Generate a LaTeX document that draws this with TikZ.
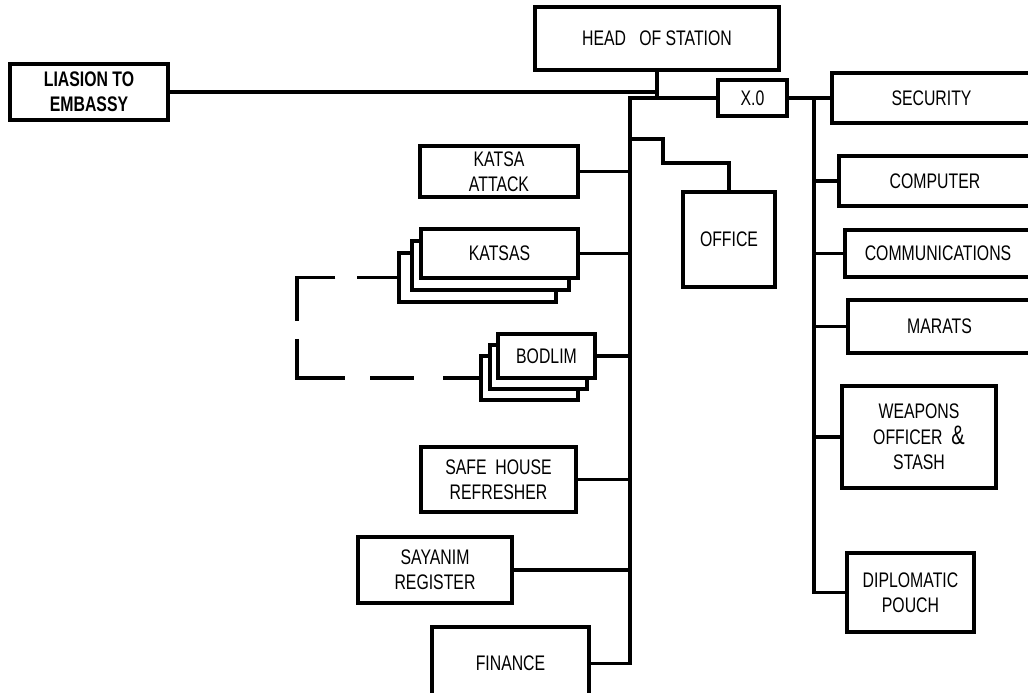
\documentclass[tikz,border=0pt]{standalone}
\usepackage{fontspec}
\setmainfont{Liberation Sans}[FakeStretch=0.75]
\usepackage{tikz}

\begin{document}
\begin{tikzpicture}[x=0.025cm,y=-0.025cm,line width=2.3pt,
    box/.style={draw,fill=white,align=center,inner sep=2pt,
        font=\fontsize{15}{18}\selectfont},
    dashlink/.style={dash pattern=on 29pt off 15pt on 58pt off 13pt on 62pt off 18pt on 31pt off 21pt on 30pt off 40pt}]
    \useasboundingbox (0,0) rectangle (1028,692);
    \clip (0,0) rectangle (1028,692);

    \node[box,minimum width=6.1cm,minimum height=1.575cm] (head) at (657,38.5) {HEAD~~~OF STATION};
    \node[box,minimum width=3.95cm,minimum height=1.4cm,font=\fontsize{15}{18}\selectfont\bfseries] (liaison) at (89,92) {LIASION TO\\EMBASSY};
    \node[box,minimum width=1.725cm,minimum height=0.9cm] (xo) at (752.5,98) {X.0};

    \node[box,minimum width=4.975cm,minimum height=1.25cm] (security) at (931.5,98) {SECURITY};
    \node[box,minimum width=4.8cm,minimum height=1.25cm] (computer) at (935,181) {COMPUTER};
    \node[box,minimum width=4.65cm,minimum height=1.175cm] (comms) at (938,253.5) {COMMUNICATIONS};
    \node[box,minimum width=4.575cm,minimum height=1.325cm] (marats) at (939.5,326.5) {MARATS};
    \node[box,minimum width=3.85cm,minimum height=2.55cm] (weapons) at (919,437) {WEAPONS\\OFFICER~~{\fontsize{19}{18}\selectfont\&}\\STASH};
    \node[box,minimum width=3.175cm,minimum height=1.975cm] (diplomatic) at (910.5,592.5) {DIPLOMATIC\\POUCH};

    \node[box,minimum width=3.95cm,minimum height=1.275cm] (attack) at (499,171.5) {KATSA\\ATTACK};
    \node[box,minimum width=3.925cm,minimum height=1.225cm] (katsas3) at (477.5,277.5) {};
    \node[box,minimum width=3.925cm,minimum height=1.225cm] (katsas2) at (490.5,265.5) {};
    \node[box,minimum width=3.925cm,minimum height=1.225cm] (katsas) at (499.5,253.5) {KATSAS};
    \node[box,minimum width=2.425cm,minimum height=1.1cm] (bodlim3) at (529.5,378) {};
    \node[box,minimum width=2.425cm,minimum height=1.1cm] (bodlim2) at (538.5,367) {};
    \node[box,minimum width=2.425cm,minimum height=1.1cm] (bodlim) at (546.5,356) {BODLIM};
    \node[box,minimum width=3.875cm,minimum height=1.625cm] (safehouse) at (498.5,479.5) {SAFE~~HOUSE\\REFRESHER};
    \node[box,minimum width=3.85cm,minimum height=1.65cm] (sayanim) at (435,570) {SAYANIM\\REGISTER};
    \node[box,minimum width=3.925cm,minimum height=1.825cm] (finance) at (510.5,663.5) {FINANCE};
    \node[box,minimum width=2.3cm,minimum height=2.375cm] (office) at (729,239.5) {OFFICE};

    \coordinate (ltop) at (630,98);
    \coordinate (rtop) at (814,98);
    \coordinate (offj) at (630,139);
    \coordinate (dcorner) at (297,0);

    \draw (head.south) -- (head.south |- xo.west);
    \draw (liaison.east) -- (liaison.east -| head.south);
    \draw (xo.west) -- (ltop) |- (finance.east);
    \foreach \n in {attack,katsas,bodlim,safehouse,sayanim}
        \draw (\n.east) -- (\n.east -| ltop);
    \draw (offj) -- ++(33,0) -- ++(0,24) -| (office.north);

    \draw (xo.east) -- (security.west);
    \draw (rtop) |- (diplomatic.west);
    \foreach \n in {computer,comms,marats,weapons}
        \draw (\n.west) -- (\n.west -| rtop);

    \draw[dashlink] (katsas3.west) -- (katsas3.west -| dcorner) -- (bodlim3.west -| dcorner) -- (bodlim3.west);
\end{tikzpicture}
\end{document}
